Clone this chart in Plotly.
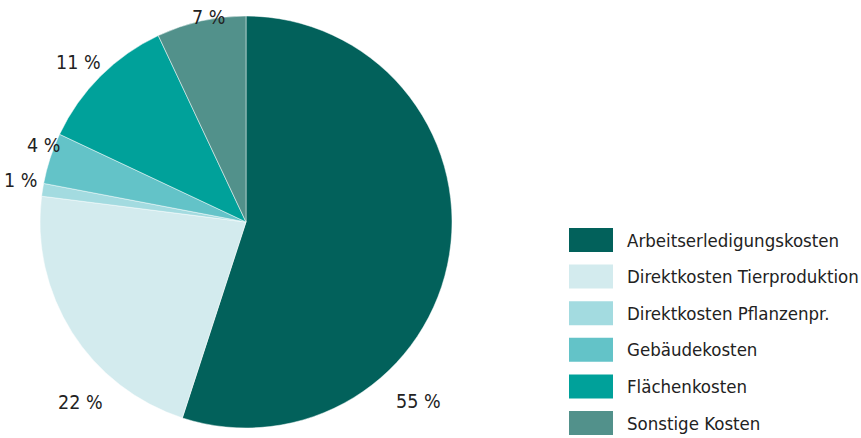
import plotly.graph_objects as go

# Kostenanteile (Prozent)
categories = [
    "Arbeitserledigungskosten",
    "Direktkosten Tierproduktion",
    "Direktkosten Pflanzenpr.",
    "Gebäudekosten",
    "Flächenkosten",
    "Sonstige Kosten",
]
shares = [55, 22, 1, 4, 11, 7]
colors = ["#02615b", "#d3ebee", "#a3dbe0", "#63c3c8", "#00a19a", "#52918b"]

# Beschriftungspositionen der Prozentwerte (Pixel im Bild)
label_x = [418, 80, 20, 43, 78, 208]
label_y = [401, 402, 180, 146, 62, 18]

W, H = 861, 438
FONT = "DejaVu Sans Condensed, Liberation Sans Narrow, sans-serif"

fig = go.Figure(
    go.Pie(
        labels=categories,
        values=shares,
        sort=False,
        direction="clockwise",
        rotation=0,
        marker=dict(colors=colors, line=dict(color="rgba(255,255,255,0.6)", width=0.8)),
        textinfo="none",
        hoverinfo="label+percent",
        showlegend=False,
        domain=dict(x=[40 / W, 452 / W], y=[10 / H, 422 / H]),
    )
)

annotations = []
for v, lx, ly in zip(shares, label_x, label_y):
    annotations.append(
        dict(
            x=lx / W, y=1 - ly / H, xref="paper", yref="paper",
            text=f"{v} %", showarrow=False,
            font=dict(family=FONT, size=19.5, color="#222222"),
            xanchor="center", yanchor="middle",
        )
    )

# Legende rechts unten
shapes = []
leg_x0, leg_w, leg_h = 569, 44, 24
leg_y0, leg_step = 240, 36.6
for i, (name, c) in enumerate(zip(categories, colors)):
    cy = leg_y0 + i * leg_step
    shapes.append(
        dict(
            type="rect", xref="paper", yref="paper",
            x0=leg_x0 / W, x1=(leg_x0 + leg_w) / W,
            y0=1 - (cy + leg_h / 2) / H, y1=1 - (cy - leg_h / 2) / H,
            fillcolor=c, line=dict(width=0),
        )
    )
    annotations.append(
        dict(
            x=625 / W, y=1 - cy / H, xref="paper", yref="paper",
            text=name, showarrow=False,
            font=dict(family=FONT, size=18.5, color="#222222"),
            xanchor="left", yanchor="middle",
        )
    )

fig.update_layout(
    width=W, height=H,
    margin=dict(l=0, r=0, t=0, b=0),
    paper_bgcolor="white", plot_bgcolor="white",
    annotations=annotations, shapes=shapes,
)

fig.write_html("out.html")
